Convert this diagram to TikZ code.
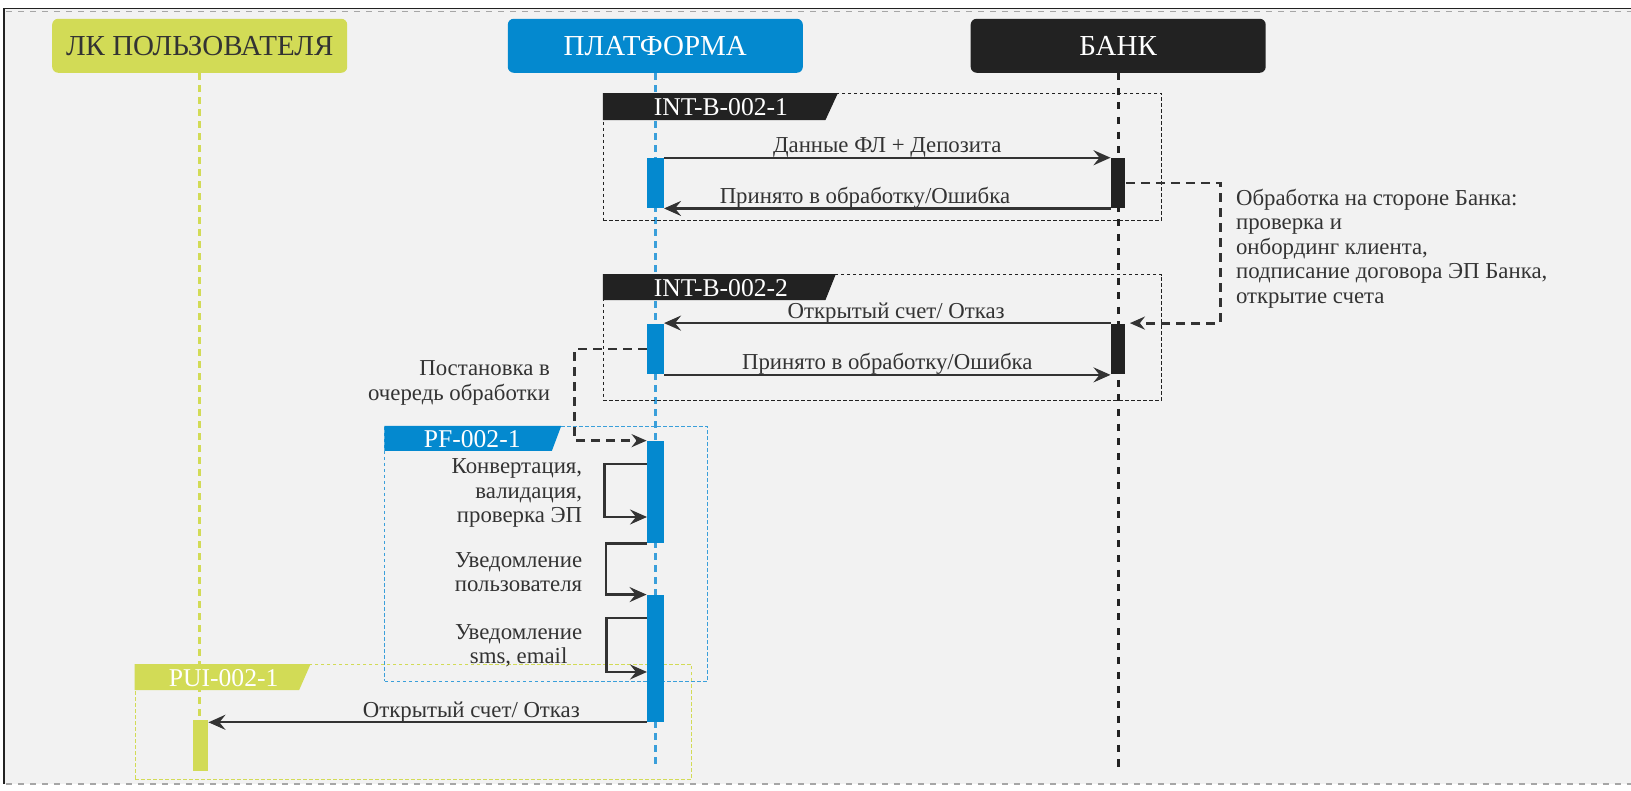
\documentclass[tikz,border=0pt]{standalone}
\usepackage{fontspec}
\setmainfont{Liberation Serif}
\usetikzlibrary{arrows.meta,fit}
\definecolor{lkgreen}{HTML}{D2DB56}
\definecolor{pfblue}{HTML}{0489CF}
\definecolor{pfline}{HTML}{3A9FDA}
\definecolor{bankdark}{HTML}{222222}
\definecolor{paper}{HTML}{F2F2F2}
\definecolor{ink}{HTML}{333333}

\begin{document}
\begin{tikzpicture}[
        x=0.52pt, y=-0.52pt,
        head/.style={rounded corners=3pt, minimum width=147.5pt, minimum height=27pt, inner sep=0pt, font=\fontsize{14.5}{17}\selectfont},
        life/.style={line width=1.3pt, dash pattern=on 3.3pt off 2.7pt},
        bar/.style={inner sep=0pt, fill=#1},
        frame/.style={draw=#1, inner sep=0pt, line width=0.5pt, dash pattern=on 1.8pt off 1.2pt},
        tab/.style={text=white, inner sep=0pt, font=\fontsize{12.8}{15}\selectfont},
        msg/.style={draw=ink, line width=1.2pt, -{Stealth[length=8.5pt,width=7.5pt,inset=3pt]}},
        note/.style={draw=ink, line width=1.4pt, dash pattern=on 4.5pt off 3pt, -{Stealth[length=7.5pt,width=6.5pt,inset=2.5pt]}},
        lbl/.style={text=ink, inner sep=1pt, font=\fontsize{11.4}{12.2}\selectfont},
        over/.style={lbl, above=-1.5pt},
    ]
    \useasboundingbox (0,0) rectangle (1568,760);
    \fill[white] (0,0) rectangle (1568,760);
    \fill[paper] (4,8) rectangle (1568,754);
    \draw[bankdark, line width=0.8pt] (1568,8) -- (4,8) -- (4,754);
    \draw[gray!70, line width=0.9pt, dash pattern=on 3pt off 3pt] (6,11) -- (1568,11);
    \draw[gray!70, line width=0.9pt, dash pattern=on 3pt off 3pt] (6,754) -- (1568,754);

    \node[head, fill=lkgreen, text=ink](lk) at (192,44) {ЛК ПОЛЬЗОВАТЕЛЯ};
    \node[head, fill=pfblue, text=white](pf) at (630,44) {ПЛАТФОРМА};
    \node[head, fill=bankdark, text=white](bank) at (1075,44) {БАНК};

    \coordinate (lkend) at (192,740);
    \coordinate (pfend) at (630,738);
    \coordinate (bankend) at (1075,738);
    \draw[life, lkgreen] (lk.south) -- (lkend);
    \draw[life, pfline] (pf.south) -- (pfend);
    \draw[life, bankdark, dash pattern=on 3.5pt off 3.8pt] (bank.south) -- (bankend);

    \node[frame=bankdark, fit={(580,90)(1117,212)}](f1){};
    \fill[bankdark] (f1.north west) -- ++(226,0) -- ++(-12,26) -- ++(-214,0) -- cycle;
    \node[tab](t1) at (693,103) {INT-B-002-1};

    \node[frame=bankdark, fit={(580,264)(1117,385)}](f2){};
    \fill[bankdark] (f2.north west) -- ++(224,0) -- ++(-10,25) -- ++(-214,0) -- cycle;
    \node[tab](t2) at (693,277) {INT-B-002-2};

    \node[frame=pfline, fit={(370,410)(680,655)}](f3){};
    \fill[pfblue] (f3.north west) -- ++(170,0) -- ++(-9,24) -- ++(-161,0) -- cycle;
    \node[tab](t3) at (454,422) {PF-002-1};

    \node[frame=lkgreen, fit={(130,639)(665,749)}](f4){};
    \fill[lkgreen] (f4.north west) -- ++(169,0) -- ++(-11,25) -- ++(-158,0) -- cycle;
    \node[tab](t4) at (215,652) {PUI-002-1};

    \node[bar=pfblue, fit={(622,152)(638,200)}](p1){};
    \node[bar=bankdark, fit={(1068,152)(1082,200)}](b1){};
    \node[bar=pfblue, fit={(622,311)(638,360)}](p2){};
    \node[bar=bankdark, fit={(1068,311)(1082,360)}](b2){};
    \node[bar=pfblue, fit={(622,424)(638,522)}](p3){};
    \node[bar=pfblue, fit={(622,572)(638,694)}](p4){};
    \node[bar=lkgreen, fit={(186,692)(200,741)}](u1){};

    \draw[msg] (p1.north east) -- node[over](m1){Данные ФЛ + Депозита} (b1.north west);
    \draw[msg] (b1.south west) -- node[over, pos=0.55](m2){Принято в обработку/Ошибка} (p1.south east);
    \draw[msg] (b2.north west) -- node[over, pos=0.48](m3){Открытый счет/ Отказ} (p2.north east);
    \draw[msg] (p2.south east) -- node[over](m4){Принято в обработку/Ошибка} (b2.south west);
    \draw[msg] (p4.south west) -- node[over, pos=0.4](m5){Открытый счет/ Отказ} (p4.south west -| u1.east);

    \draw[note, shorten >=2pt] (b1.east) -- ++(91,0) |- (b2.north east);
    \node[lbl, align=left, anchor=west](n1) at (1186,239) {Обработка на стороне Банка:\\проверка и\\онбординг клиента,\\подписание договора ЭП Банка,\\открытие счета};

    \draw[note] (p2.west) -- ++(-69,0) |- (p3.north west);
    \node[lbl, align=right, anchor=east](n2) at (531,368) {Постановка в\\очередь обработки};

    \coordinate (s1) at (622,446);
    \coordinate (s2) at (622,497);
    \coordinate (s3) at (622,594);
    \coordinate (s4) at (622,646);
    \draw[msg] (s1) -- ++(-41,0) |- (s2);
    \draw[msg] (p3.south west) -- ++(-39,0) |- (p4.north west);
    \draw[msg] (s3) -- ++(-39,0) |- (s4);
    \node[lbl, align=right, anchor=east](c1) at (562,474) {Конвертация,\\валидация,\\проверка ЭП};
    \node[lbl, align=right, anchor=east](c2) at (562,550) {Уведомление\\пользователя};
    \node[lbl, align=center, anchor=east](c3) at (562,621) {Уведомление\\sms, email};

\end{tikzpicture}
\end{document}
